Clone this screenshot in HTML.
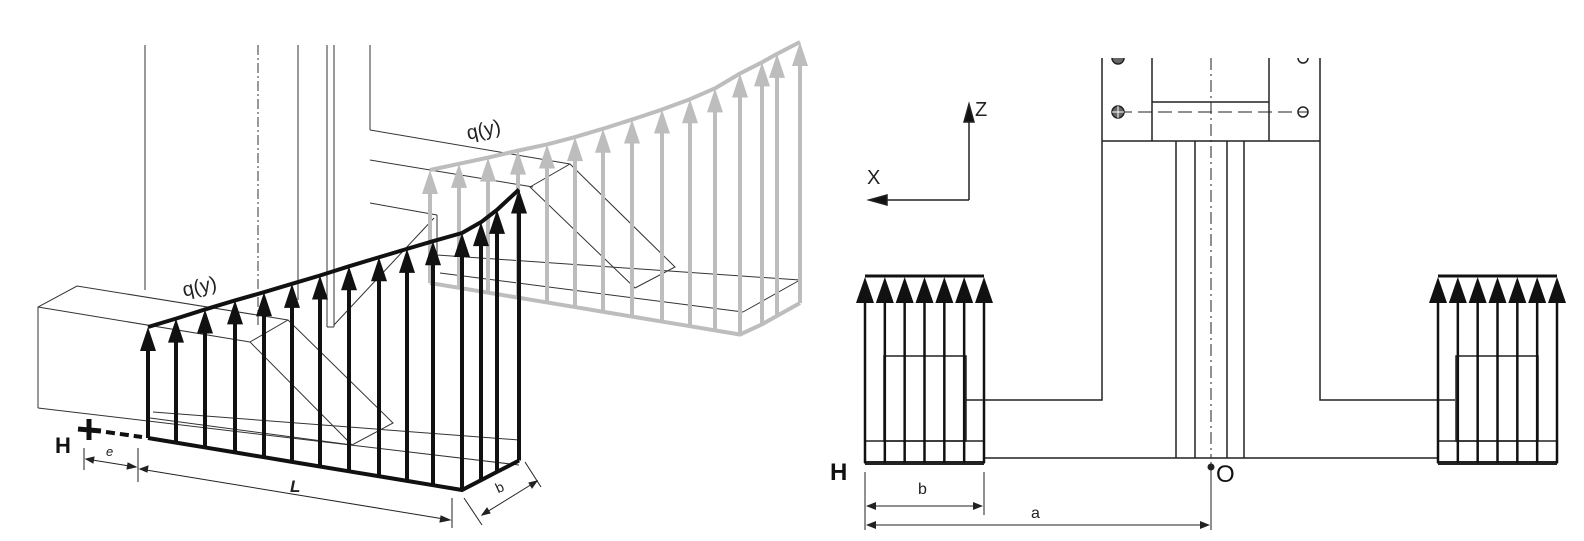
<!DOCTYPE html>
<html><head><meta charset="utf-8"><style>
html,body{margin:0;padding:0;background:#fff;}
svg{display:block;font-family:"Liberation Sans",sans-serif;}
</style></head><body>
<svg id="fig" width="1584" height="541" viewBox="0 0 1584 541">
<g id="bg-left" stroke="#333" stroke-width="1" fill="none">
  <line x1="145" y1="45" x2="145" y2="290"/>
  <line x1="258" y1="45" x2="258" y2="327" stroke-dasharray="10,3,2,3"/>
  <line x1="298" y1="45" x2="298" y2="300"/>
  <line x1="327" y1="45" x2="327" y2="327"/>
  <line x1="334" y1="45" x2="334" y2="327"/>
  <line x1="327" y1="327" x2="334" y2="327"/>
  <line x1="370" y1="45" x2="370" y2="130"/>
  <polyline points="38,408 38,307 77,286 288,320"/>
  <line x1="38" y1="307" x2="250" y2="342"/>
  <line x1="38" y1="408" x2="519" y2="465"/>
  <polygon points="250,342 288,320 393,423 352,445"/>
  <line x1="153" y1="412" x2="519" y2="440"/>
  <line x1="150" y1="418" x2="352" y2="445"/>
  <line x1="370" y1="130" x2="570" y2="164"/>
  <line x1="370" y1="160" x2="533" y2="187"/>
  <line x1="370" y1="203" x2="437" y2="215"/>
  <line x1="437" y1="215" x2="437" y2="257"/>
  <line x1="434" y1="218" x2="334" y2="325"/>
  <polygon points="530,187 570,164 675,267 635,288"/>
  <line x1="437" y1="255" x2="800" y2="280"/>
  <line x1="440" y1="273" x2="743" y2="312"/>
  <line x1="743" y1="312" x2="800" y2="280"/>
</g>
<g id="gray-load"></g>
<g id="black-load"></g>
<g stroke="#222" stroke-width="1" fill="none">
  <line x1="89" y1="419" x2="89" y2="440" stroke="#111" stroke-width="5"/>
  <line x1="78" y1="429" x2="101" y2="431" stroke="#111" stroke-width="5"/>
  <line x1="106" y1="432" x2="142" y2="437" stroke="#111" stroke-width="4" stroke-dasharray="9,5"/>
  <line x1="84" y1="448" x2="84" y2="470"/>
  <line x1="138" y1="448" x2="138" y2="482"/>
  <line x1="86" y1="459" x2="136" y2="467"/>
  <line x1="140" y1="469" x2="450" y2="520"/>
  <line x1="452" y1="498" x2="452" y2="528"/>
  <line x1="464" y1="498" x2="482" y2="525"/>
  <line x1="525" y1="462" x2="541" y2="487"/>
  <line x1="482" y1="515" x2="537" y2="481"/>
  <path d="M86,459 l8,-2 l-1,6z M136,467 l-8,-4 l-1,6z M140,469 l8,-3 l-1,6z M450,520 l-9,-4 l-1,6z M482,515 l5,-7 l3,5z M537,481 l-5,7 l-3,-5z" fill="#222"/>
</g>
<text x="55" y="453" font-size="22" font-weight="bold" fill="#111">H</text>
<text x="106" y="456" font-size="13" font-style="italic" fill="#222">e</text>
<text x="290" y="492" font-size="17" font-weight="bold" font-style="italic" fill="#222">L</text>
<text x="496" y="492" font-size="14" fill="#222" transform="rotate(-25 500 488)">b</text>
<text x="182" y="293" font-size="20" fill="#222" transform="rotate(-12 200 285)">q(y)</text>
<text x="466" y="136" font-size="20" fill="#222" transform="rotate(-12 485 128)">q(y)</text>

<g id="right" stroke="#222" stroke-width="1.5" fill="none">
  <polyline points="1102,58 1102,400 966,400"/>
  <polyline points="1320,58 1320,400 1455,400"/>
  <line x1="1102" y1="141" x2="1320" y2="141"/>
  <polyline points="1152,58 1152,141"/>
  <polyline points="1269,58 1269,141"/>
  <line x1="1152" y1="102" x2="1269" y2="102"/>
  <line x1="1118" y1="112" x2="1303" y2="112" stroke-dasharray="14,6" stroke-width="1"/>
  <line x1="1176" y1="141" x2="1176" y2="458"/>
  <line x1="1195" y1="141" x2="1195" y2="458"/>
  <line x1="1227" y1="141" x2="1227" y2="458"/>
  <line x1="1244" y1="141" x2="1244" y2="458"/>
  <line x1="1211" y1="58" x2="1211" y2="458" stroke-dasharray="12,4,2,4" stroke-width="1"/>
  <line x1="1211" y1="462" x2="1211" y2="530" stroke-width="1"/>
  <line x1="984" y1="458" x2="1438" y2="458"/>
  <circle cx="1118" cy="112" r="6" fill="#666"/>
  <line x1="1112" y1="112" x2="1124" y2="112" stroke="#fff" stroke-width="1"/>
  <line x1="1118" y1="106" x2="1118" y2="118" stroke="#fff" stroke-width="1"/>
  <circle cx="1303" cy="112" r="5"/>
  <line x1="1298" y1="112" x2="1308" y2="112" stroke-width="1"/>
  <circle cx="1118" cy="58" r="6" fill="#666"/>
  <circle cx="1303" cy="58" r="5"/>
  <rect x="865" y="441" width="119" height="22"/>
  <rect x="884" y="356" width="82" height="85"/>
  <rect x="1438" y="441" width="119" height="22"/>
  <rect x="1456" y="356" width="82" height="85"/>
  <line x1="865" y1="463" x2="984" y2="463" stroke-width="4"/>
  <line x1="1438" y1="463" x2="1557" y2="463" stroke-width="4"/>
  <line x1="969" y1="200" x2="969" y2="118"/>
  <line x1="969" y1="200" x2="880" y2="200"/>
  <path d="M969,104 l-5,18 l10,0z M869,200 l18,-5 l0,10z" fill="#111"/>
</g>
<rect x="1090" y="40" width="240" height="18" fill="#fff"/>
<g id="right-loads"></g>
<g stroke="#222" stroke-width="1" fill="#222">
  <line x1="865" y1="472" x2="865" y2="530"/>
  <line x1="984" y1="472" x2="984" y2="515"/>
  <line x1="867" y1="506" x2="982" y2="506"/>
  <line x1="867" y1="525" x2="1209" y2="525"/>
  <path d="M866,506 l10,-4 l0,8z M983,506 l-10,-4 l0,8z M866,525 l10,-4 l0,8z M1210,525 l-10,-4 l0,8z" stroke="none"/>
  <circle cx="1211" cy="467" r="3.5" stroke="none"/>
</g>
<text x="830" y="480" font-size="24" font-weight="bold" fill="#111">H</text>
<text x="1216" y="482" font-size="24" fill="#111">O</text>
<text x="918" y="494" font-size="16" fill="#222">b</text>
<text x="1031" y="518" font-size="16" fill="#222">a</text>
<text x="975" y="116" font-size="20" fill="#222">Z</text>
<text x="867" y="184" font-size="20" fill="#222">X</text>
</svg>
<script>
// Load magnitudes (px of arrow length)
const blackStations = [0,28,57,87,116,144,172,201,231,259,285,314,333,349,371];
const blackQ = [111,124,138,152,165,178,191,205,219,232,244,257,258,262,271];
const grayStations = [0,29,58,88,117,145,173,202,232,260,285,310,332,347,370];
const grayQ = [113,124,135,147,158,170,183,197,212,227,242,261,262,262,261];
const rightArrowsPerBlock = [7,7];
const rightBlockStart = [865,1438];

const NS='http://www.w3.org/2000/svg';
function mk(tag,attrs,parent){const e=document.createElementNS(NS,tag);for(const k in attrs)e.setAttribute(k,attrs[k]);parent.appendChild(e);return e;}
function baseB(s){const x=148+s; if(x<=462) return [x,438+(x-148)*52/314]; return [x,490-(x-462)*30/58];}
function baseG(s){const x=430+s; if(x<=743) return [x,283+(x-430)*52/313]; return [x,335-(x-743)*32/57];}
function drawLoad(g,stations,q,base,color,nameLine,nameArrow){
  const tops=[];
  stations.forEach((s,i)=>{
    const [x,y]=base(s); const ty=y-q[i]; tops.push([x,ty]);
    const ln=mk('line',{x1:x,y1:y,x2:x,y2:ty+20,stroke:color,'stroke-width':4},g);
    
    
    const h=mk('path',{d:`M${x},${ty} l-8,24 l16,0z`,fill:color},g);
    
    
  });
  const bp=stations.map(s=>base(s).join(',')).join(' ');
  const b=mk('polyline',{points:bp,fill:'none',stroke:color,'stroke-width':4},g);
  
  
  const t=mk('polyline',{points:tops.map(p=>p.join(',')).join(' '),fill:'none',stroke:color,'stroke-width':4,'stroke-linejoin':'round'},g);
  
  
}
drawLoad(document.getElementById('gray-load'),grayStations,grayQ,baseG,'#bdbdbd','gray-load-line','gray-load-arrow');
drawLoad(document.getElementById('black-load'),blackStations,blackQ,baseB,'#111','black-load-line','black-load-arrow');

const rg=document.getElementById('right-loads');
rightBlockStart.forEach((x0,bi)=>{
  const n=rightArrowsPerBlock[bi];
  for(let i=0;i<n;i++){
    const x=x0+i*119/(n-1);
    const l=mk('line',{x1:x,y1:463,x2:x,y2:300,stroke:'#111','stroke-width':2.5},rg);
    
    
    const h=mk('path',{d:`M${x},277 l-9,26 l18,0z`,fill:'#111'},rg);
    
    
  }
  const bar=mk('line',{x1:x0,y1:276,x2:x0+119,y2:276,stroke:'#111','stroke-width':3},rg);
  
  
});
</script>
</body></html>
